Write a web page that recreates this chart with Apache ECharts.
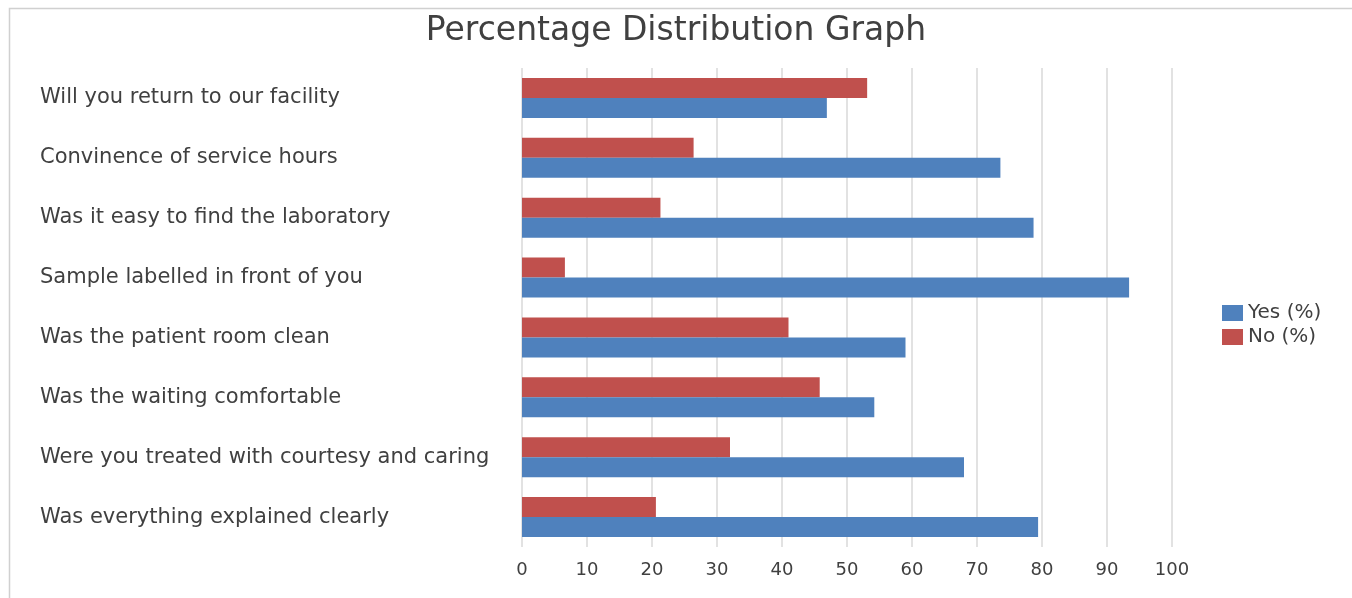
<!DOCTYPE html>
<html><head><meta charset="utf-8">
<script src="https://cdn.jsdelivr.net/npm/echarts@6/dist/echarts.min.js"></script>
<style>html,body{margin:0;padding:0;background:#fff}#c{width:1352px;height:598px}</style>
</head><body><div id="c"></div>
<script>
const categories = [
  "Will you return to our facility",
  "Convinence of service hours",
  "Was it easy to find the laboratory",
  "Sample labelled in front of you",
  "Was the patient room clean",
  "Was the waiting comfortable",
  "Were you treated with courtesy and caring",
  "Was everything explained clearly"
];
const yesValues = [46.9, 73.6, 78.7, 93.4, 59.0, 54.2, 68.0, 79.4];
const noValues  = [53.1, 26.4, 21.3, 6.6, 41.0, 45.8, 32.0, 20.6];
const xTicks = { min: 0, max: 100, interval: 10 };

const FONT = 'DejaVu Sans';
const chart = echarts.init(document.getElementById('c'));
chart.setOption({
  animation: false,
  title: {
    text: 'Percentage Distribution Graph',
    left: 'center', top: 10,
    textStyle: { fontFamily: FONT, fontSize: 33, fontWeight: 'normal', color: '#404040' }
  },
  graphic: [{
    type: 'rect', silent: true,
    shape: { x: 9.5, y: 8.5, width: 1400, height: 700 },
    style: { fill: 'none', stroke: '#d0d0d0', lineWidth: 1.5 }
  }],
  legend: {
    orient: 'vertical', left: 1217, top: 298,
    itemWidth: 21, itemHeight: 16, itemGap: 4,
    icon: 'rect',
    data: ['Yes (%)', 'No (%)'],
    textStyle: { fontFamily: FONT, fontSize: 20, color: '#404040' }
  },
  grid: { left: 522, right: 180, top: 68, bottom: 51 },
  xAxis: {
    type: 'value', min: xTicks.min, max: xTicks.max, interval: xTicks.interval,
    axisLine: { show: false }, axisTick: { show: false },
    splitLine: { lineStyle: { color: '#d9d9d9', width: 1.5 } },
    axisLabel: { margin: 14, fontFamily: FONT, fontSize: 18, color: '#404040' }
  },
  yAxis: {
    type: 'category', data: categories, inverse: true,
    axisLine: { show: false }, axisTick: { show: false },
    axisLabel: { align: 'left', margin: 482, fontFamily: FONT, fontSize: 21, color: '#404040' }
  },
  series: [
    { name: 'No (%)', type: 'bar', data: noValues, barWidth: 20, barGap: '0%',
      itemStyle: { color: '#C0504D' } },
    { name: 'Yes (%)', type: 'bar', data: yesValues, barWidth: 20, barGap: '0%',
      itemStyle: { color: '#4F81BD' } }
  ]
});
</script></body></html>
